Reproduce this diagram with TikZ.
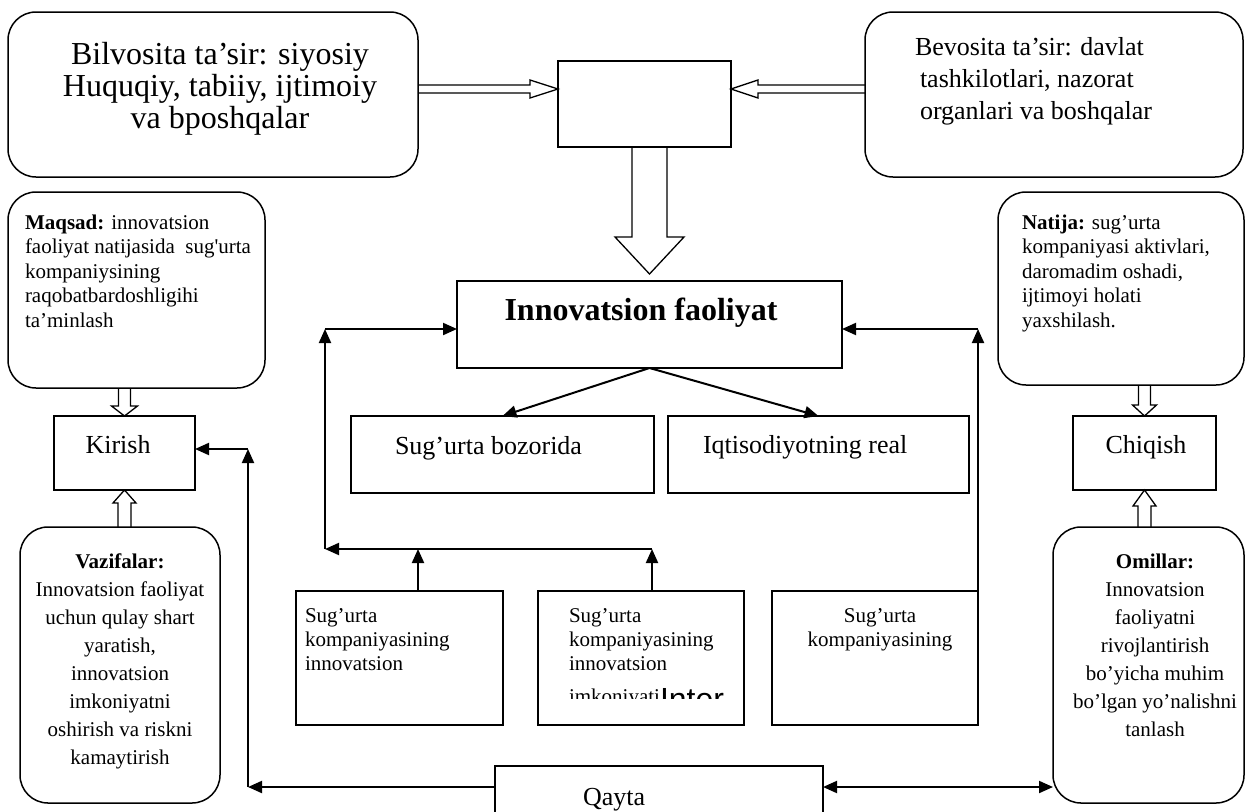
\documentclass[tikz,border=0pt]{standalone}
\usepackage{fontspec}
\setmainfont{Liberation Serif}
\newfontfamily\sansI{Liberation Sans}
\usetikzlibrary{arrows.meta,calc}
\newcommand\myfs[2]{\fontsize{#1}{#2}\selectfont}
\newcommand\mystrut{\rule{0pt}{1em}}
% horizontal hollow block arrow: #1 start, #2 tip, #3 half shaft, #4 half head, #5 signed head length
\newcommand\hblk[5]{\draw[blk] let \p1=#1, \p2=#2 in (\x1,\y2-#3) -- (\x2#5,\y2-#3) -- (\x2#5,\y2-#4) -- (\x2,\y2) -- (\x2#5,\y2+#4) -- (\x2#5,\y2+#3) -- (\x1,\y2+#3);}
% vertical hollow block arrow
\newcommand\vblk[5]{\draw[blk] let \p1=#1, \p2=#2 in (\x2-#3,\y1) -- (\x2-#3,\y2#5) -- (\x2-#4,\y2#5) -- (\x2,\y2) -- (\x2+#4,\y2#5) -- (\x2+#3,\y2#5) -- (\x2+#3,\y1);}
\begin{document}
\begin{tikzpicture}[x=1pt,y=-1pt,
  rbox/.style={draw, line width=1.5pt, rounded corners=28pt, inner sep=0pt, outer sep=0pt},
  sbox/.style={draw, line width=1.8pt, inner sep=0pt, outer sep=0pt},
  tx/.style={inner sep=0pt, outer sep=0pt},
  arr/.style={line width=2pt, -{Triangle[length=14pt,width=12pt]}},
  arrs/.style={line width=2pt, {Triangle[length=14pt,width=12pt]}-{Triangle[length=14pt,width=12pt]}},
  blk/.style={draw, line width=1.3pt, line join=miter}]
\clip (0,0) rectangle (1246,811);

% boxes
\node[rbox, minimum width=410pt, minimum height=165pt] (tl) at (213,94.5) {};
\node[rbox, minimum width=378pt, minimum height=165pt] (tr) at (1054,94.5) {};
\node[sbox, minimum width=173pt, minimum height=86pt] (tc) at (644.5,104) {};
\node[sbox, minimum width=385pt, minimum height=87pt] (inn) at (649.5,324.5) {};
\node[sbox, minimum width=303pt, minimum height=77pt] (sb) at (502.5,454.5) {};
\node[sbox, minimum width=301pt, minimum height=77pt] (iq) at (818.5,454.5) {};
\node[rbox, minimum width=257pt, minimum height=196pt] (mq) at (136.5,290) {};
\node[rbox, minimum width=246pt, minimum height=193pt] (nt) at (1121,288.5) {};
\node[sbox, minimum width=141pt, minimum height=74pt] (ki) at (124.5,453) {};
\node[sbox, minimum width=143pt, minimum height=74pt] (ch) at (1144.5,453) {};
\node[rbox, minimum width=200pt, minimum height=276pt] (vz) at (120,665) {};
\node[rbox, minimum width=191pt, minimum height=276pt] (om) at (1148.5,665) {};
\node[sbox, minimum width=207pt, minimum height=134pt] (b1) at (399.5,658) {};
\node[sbox, minimum width=206pt, minimum height=134pt] (b2) at (641,658) {};
\node[sbox, minimum width=206pt, minimum height=134pt] (b3) at (875,658) {};
\node[sbox, minimum width=328pt, minimum height=74pt] (qa) at (659,803) {};

% texts
\node[tx, anchor=north, align=center, font=\myfs{32}{32}] (tlT) at (220,32) {\mystrut Bilvosita ta’sir: siyosiy\\Huquqiy, tabiiy, ijtimoiy\\va bposhqalar};
\node[tx, anchor=north west, align=left, font=\myfs{26}{32}] (trT) at (915,29) {\mystrut Bevosita ta’sir: davlat\\\hspace*{5pt}tashkilotlari, nazorat\\\hspace*{5pt}organlari va boshqalar};
\node[tx, anchor=base, font=\myfs{32}{32}\bfseries] (innT) at (641,320) {Innovatsion faoliyat};
\node[tx, anchor=base west, font=\myfs{26}{30}] (sbT) at (395,454) {Sug’urta bozorida};
\node[tx, anchor=base west, font=\myfs{26}{30}] (iqT) at (703,453) {Iqtisodiyotning real};
\node[tx, anchor=north west, align=left, font=\myfs{21}{24.5}] (mqT) at (25,208) {\mystrut\textbf{Maqsad:} innovatsion\\faoliyat natijasida\ \ sug\textquotesingle urta\\kompaniysining\\raqobatbardoshligihi\\ta’minlash};
\node[tx, anchor=north west, align=left, font=\myfs{21}{24.5}] (ntT) at (1022,208) {\mystrut\textbf{Natija:} sug’urta\\kompaniyasi aktivlari,\\daromadim oshadi,\\ijtimoyi holati\\yaxshilash.};
\node[tx, anchor=base, font=\myfs{26}{30}] (kiT) at (118,453) {Kirish};
\node[tx, anchor=base, font=\myfs{26}{30}] (chT) at (1146,453) {Chiqish};
\node[tx, anchor=north, align=center, font=\myfs{21}{28}] (vzT) at (120,547) {\mystrut\textbf{Vazifalar:}\\Innovatsion faoliyat\\uchun qulay shart\\yaratish,\\innovatsion\\imkoniyatni\\oshirish va riskni\\kamaytirish};
\node[tx, anchor=north, align=center, font=\myfs{21}{28}] (omT) at (1155,547) {\mystrut\textbf{Omillar:}\\Innovatsion\\faoliyatni\\rivojlantirish\\bo’yicha muhim\\bo’lgan yo’nalishni\\tanlash};
\node[tx, anchor=north west, align=left, font=\myfs{21}{24}] (b1T) at (305,601) {\mystrut Sug’urta\\kompaniyasining\\innovatsion};
\node[tx, anchor=north west, align=left, font=\myfs{21}{24}] (b2T) at (569,601) {\mystrut Sug’urta\\kompaniyasining\\innovatsion};
\begin{scope}
\clip (538,591) rectangle (744,698);
\node[tx, anchor=base west, font=\myfs{21}{24}] (b2L) at (569,703) {imkoniyati\raisebox{-7pt}{\sansI\myfs{32}{32}Inter}};
\end{scope}
\node[tx, anchor=north, align=center, font=\myfs{21}{24}] (b3T) at (880,601) {\mystrut Sug’urta\\kompaniyasining};
\node[tx, anchor=base west, font=\myfs{26}{30}] (qaT) at (583,805) {Qayta};

% helper coordinates
\coordinate (ya) at (0,89);
\coordinate (cTip) at (649.5,274);
\coordinate (railL) at (325,549);
\coordinate (railLtop) at (325,329);
\coordinate (colB1) at (418,0);
\coordinate (colB2) at (652,0);
\coordinate (railQ) at (248,787);
\coordinate (railQtop) at (248,449);

% hollow block arrows
\hblk{(tl.east |- ya)}{(tc.west |- ya)}{4pt}{9pt}{-28pt}
\hblk{(tr.west |- ya)}{(tc.east |- ya)}{4pt}{9pt}{+27pt}
\vblk{(tc.south -| cTip)}{(cTip)}{17.5pt}{34.5pt}{+37pt}
\vblk{(mq.south -| ki.north)}{(ki.north)}{6pt}{13pt}{+10pt}
\vblk{(vz.north -| ki.south)}{(ki.south)}{6.5pt}{11.5pt}{-13pt}
\vblk{(nt.south -| ch.north)}{(ch.north)}{6pt}{12pt}{+11pt}
\vblk{(om.north -| ch.south)}{(ch.south)}{6.5pt}{11.5pt}{-16pt}

% connectors
\draw[arr] (inn.south) -- (sb.north);
\draw[arr] (inn.south) -- (iq.north);
\draw[arr] (b1.north -| colB1) -- (colB1 |- railL);
\draw[arr] (b2.north -| colB2) -- (colB2 |- railL);
\draw[arr] (colB2 |- railL) -- (railL);
\draw[arr] (railL) -- (railLtop);
\draw[arr] (railLtop) -- (inn.west |- railLtop);
\draw[arr] (b3.north east) -- (b3.north east |- railLtop);
\draw[arr] (b3.north east |- railLtop) -- (inn.east |- railLtop);
\draw[arr] (qa.west |- railQ) -- (railQ);
\draw[arr] (railQ) -- (railQtop);
\draw[arr] (railQtop) -- (ki.east |- railQtop);
\draw[arrs] (qa.east |- railQ) -- (om.west |- railQ);
\end{tikzpicture}
\end{document}
